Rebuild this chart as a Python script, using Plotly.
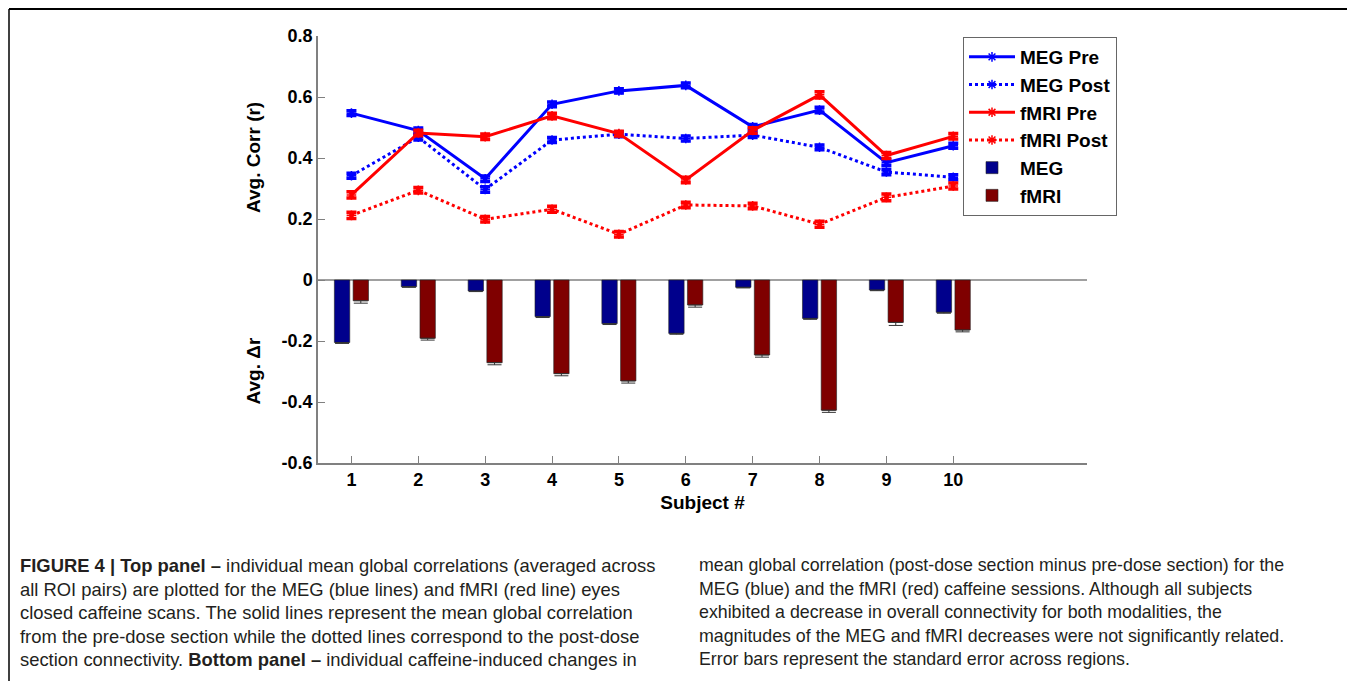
import plotly.graph_objects as go

# ---------------- data ----------------
subjects = [1, 2, 3, 4, 5, 6, 7, 8, 9, 10]
x_tick_labels = ["1", "2", "3", "4", "5", "6", "7", "8", "9", "10"]

meg_pre = [0.547, 0.490, 0.332, 0.576, 0.620, 0.638, 0.502, 0.557, 0.385, 0.440]
meg_post = [0.342, 0.468, 0.297, 0.459, 0.478, 0.464, 0.475, 0.435, 0.354, 0.337]
fmri_pre = [0.279, 0.482, 0.470, 0.538, 0.480, 0.328, 0.490, 0.607, 0.408, 0.471]
fmri_post = [0.212, 0.294, 0.199, 0.232, 0.150, 0.246, 0.243, 0.183, 0.271, 0.308]

meg_pre_err = [0.008, 0.008, 0.009, 0.008, 0.007, 0.008, 0.008, 0.009, 0.009, 0.008]
meg_post_err = [0.008, 0.009, 0.009, 0.008, 0.008, 0.008, 0.008, 0.008, 0.009, 0.008]
fmri_pre_err = [0.010, 0.009, 0.009, 0.009, 0.008, 0.009, 0.009, 0.010, 0.010, 0.009]
fmri_post_err = [0.010, 0.009, 0.009, 0.010, 0.009, 0.009, 0.009, 0.010, 0.011, 0.010]

meg_delta = [-0.205, -0.022, -0.036, -0.120, -0.143, -0.175, -0.024, -0.126, -0.033, -0.106]
fmri_delta = [-0.068, -0.191, -0.271, -0.307, -0.331, -0.082, -0.246, -0.427, -0.139, -0.164]
meg_delta_err = [0.003, 0.002, 0.002, 0.003, 0.003, 0.003, 0.002, 0.003, 0.002, 0.003]
fmri_delta_err = [0.008, 0.006, 0.007, 0.007, 0.007, 0.007, 0.007, 0.007, 0.010, 0.006]

y_tick_vals = [0.8, 0.6, 0.4, 0.2, 0, -0.2, -0.4, -0.6]
y_tick_labels = ["0.8", "0.6", "0.4", "0.2", "0", "-0.2", "-0.4", "-0.6"]

caption_left = [
    "<b>FIGURE 4 | Top panel –</b> individual mean global correlations (averaged across",
    "all ROI pairs) are plotted for the MEG (blue lines) and fMRI (red line) eyes",
    "closed caffeine scans. The solid lines represent the mean global correlation",
    "from the pre-dose section while the dotted lines correspond to the post-dose",
    "section connectivity. <b>Bottom panel –</b> individual caffeine-induced changes in",
]
caption_right = [
    "mean global correlation (post-dose section minus pre-dose section) for the",
    "MEG (blue) and the fMRI (red) caffeine sessions. Although all subjects",
    "exhibited a decrease in overall connectivity for both modalities, the",
    "magnitudes of the MEG and fMRI decreases were not significantly related.",
    "Error bars represent the standard error across regions.",
]

# ---------------- layout geometry (page pixels) ----------------
W, H = 1355, 681
OFF = 8  # page body margin
PL, PR, PT, PB = 318, 1087, 36, 463  # plot area edges in the page


def px(xp):
    return (xp - PL) / (PR - PL)


def py(yp):
    return (PB - yp) / (PB - PT)


BLUE = "#0000ff"
RED = "#ff0000"
NAVY = "#00008c"
MAROON = "#7f0000"
GRAY = "#808080"
FONT = "Liberation Sans, Arial, sans-serif"

fig = go.Figure()


def line_trace(name, y, err, color, dash):
    return go.Scatter(
        x=subjects, y=y, name=name, mode="lines+markers",
        line=dict(color=color, width=3, dash=dash),
        marker=dict(symbol="asterisk-open", size=8, color=color,
                    line=dict(color=color, width=1.5)),
        error_y=dict(type="data", array=err, visible=True, color=color,
                     thickness=3.5, width=5),
    )


fig.add_trace(line_trace("MEG Pre", meg_pre, meg_pre_err, BLUE, "solid"))
fig.add_trace(line_trace("MEG Post", meg_post, meg_post_err, BLUE, "dot"))
fig.add_trace(line_trace("fMRI Pre", fmri_pre, fmri_pre_err, RED, "solid"))
fig.add_trace(line_trace("fMRI Post", fmri_post, fmri_post_err, RED, "dot"))

fig.add_trace(go.Bar(
    x=subjects, y=meg_delta, name="MEG", width=0.23, offset=-0.255,
    marker=dict(color=NAVY, line=dict(color="#222222", width=0.6)),
    error_y=dict(type="data", symmetric=False, array=[0] * len(meg_delta_err),
                 arrayminus=meg_delta_err, color="#333333", thickness=1, width=7),
))
fig.add_trace(go.Bar(
    x=subjects, y=fmri_delta, name="fMRI", width=0.23, offset=0.025,
    marker=dict(color=MAROON, line=dict(color="#222222", width=0.6)),
    error_y=dict(type="data", symmetric=False, array=[0] * len(fmri_delta_err),
                 arrayminus=fmri_delta_err, color="#333333", thickness=1, width=7),
))

annotations = [
    dict(text="Avg. Corr (r)", xref="paper", yref="y", x=px(253), y=0.4,
         textangle=-90, showarrow=False, xanchor="center", yanchor="middle",
         font=dict(family=FONT, size=19, color="black", weight="bold")),
    dict(text="Avg. Δr", xref="paper", yref="y", x=px(253), y=-0.3,
         textangle=-90, showarrow=False, xanchor="center", yanchor="middle",
         font=dict(family=FONT, size=19, color="black", weight="bold")),
]

cap_font = dict(family="Liberation Sans, Arial, sans-serif", size=18.4, color="#231f20")
cap_font_r = dict(family="Liberation Sans, Arial, sans-serif", size=17.8, color="#231f20")
cap_rows = [565, 589, 612, 636, 659]
for txt, yp in zip(caption_left, cap_rows):
    annotations.append(dict(text=txt, xref="paper", yref="paper", x=px(18), y=py(yp),
                            xanchor="left", yanchor="middle", showarrow=False,
                            font=cap_font))
for txt, yp in zip(caption_right, cap_rows):
    annotations.append(dict(text=txt, xref="paper", yref="paper", x=px(697), y=py(yp),
                            xanchor="left", yanchor="middle", showarrow=False,
                            font=cap_font_r))

shapes = [
    # frame
    dict(type="line", xref="paper", yref="paper", x0=px(9), x1=px(9), y0=py(9), y1=py(690),
         line=dict(color="black", width=1.5)),
    dict(type="line", xref="paper", yref="paper", x0=px(9), x1=px(1352), y0=py(9), y1=py(9),
         line=dict(color="black", width=2)),
    dict(type="line", xref="paper", yref="paper", x0=px(1352), x1=px(1352), y0=py(9), y1=py(690),
         line=dict(color="#999999", width=1.5)),
    # zero line
    dict(type="line", xref="paper", yref="y", x0=0, x1=1, y0=0, y1=0,
         line=dict(color=GRAY, width=1.5), layer="below"),
]

fig.update_layout(
    width=W, height=H,
    margin=dict(l=PL - OFF, r=W - (PR - OFF), t=PT - OFF, b=H - (PB - OFF), pad=0),
    paper_bgcolor="white", plot_bgcolor="white",
    showlegend=True,
    legend=dict(x=px(963), y=py(37), xanchor="left", yanchor="top",
                bgcolor="white", bordercolor="#666666", borderwidth=1,
                font=dict(family=FONT, size=19, color="black", weight="bold"),
                itemwidth=46, tracegroupgap=0),
    annotations=annotations,
    shapes=shapes,
    barmode="overlay",
    xaxis=dict(range=[0.5, 12], tickvals=subjects, ticktext=x_tick_labels,
               ticks="inside", ticklen=7, tickcolor=GRAY, showline=True,
               linecolor=GRAY, linewidth=1.5, showgrid=False, zeroline=False,
               tickfont=dict(family=FONT, size=18, color="black", weight="bold"),
               title=dict(text="Subject #", standoff=6,
                          font=dict(family=FONT, size=19, color="black", weight="bold"))),
    yaxis=dict(range=[-0.6, 0.8], tickvals=y_tick_vals, ticktext=y_tick_labels,
               ticks="inside", ticklen=7, tickcolor=GRAY, showline=True,
               linecolor=GRAY, linewidth=1.5, showgrid=False, zeroline=False,
               tickfont=dict(family=FONT, size=18, color="black", weight="bold")),
)

fig.write_html("out.html")
